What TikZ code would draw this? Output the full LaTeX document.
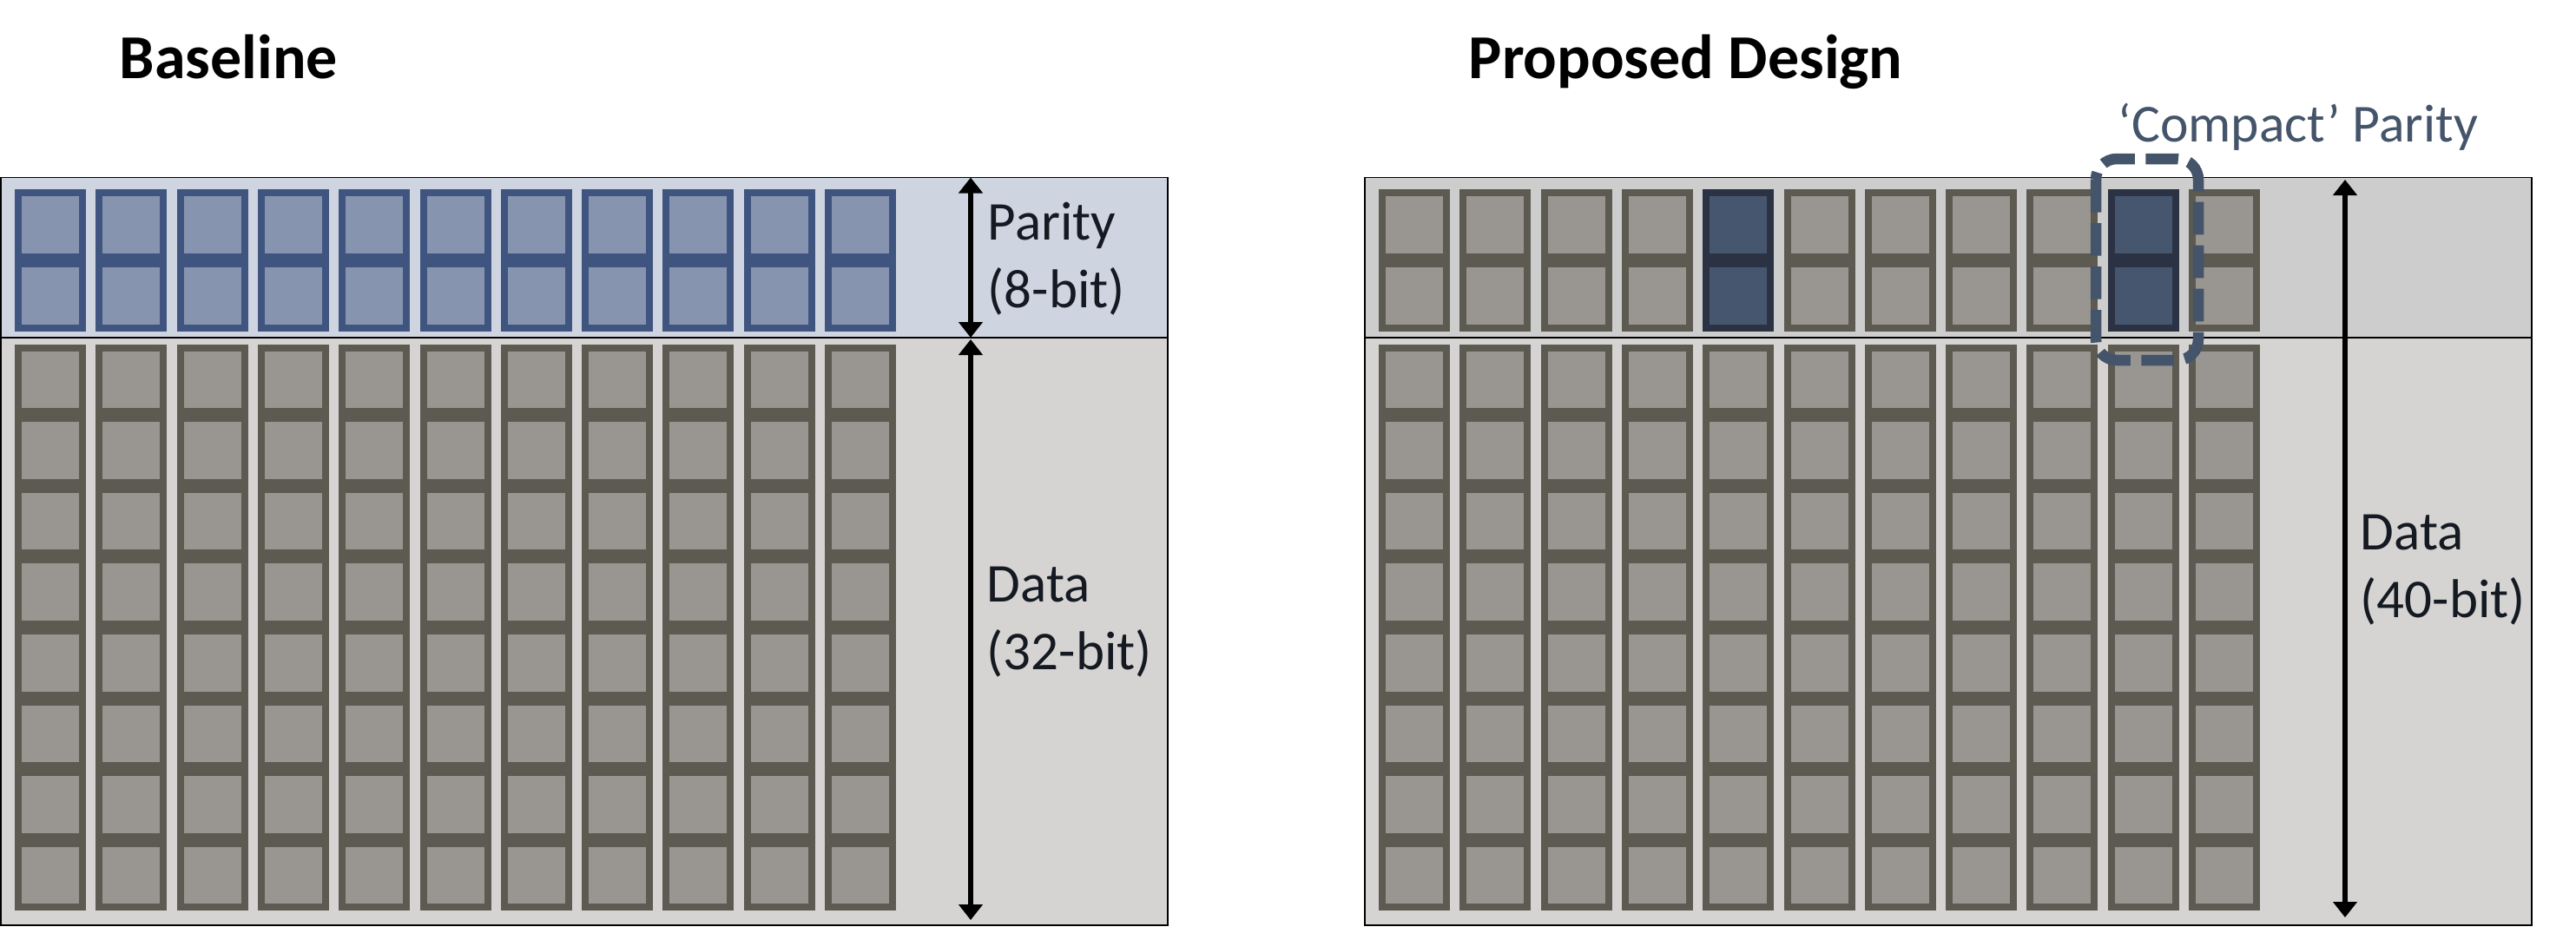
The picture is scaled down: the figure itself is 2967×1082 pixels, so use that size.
\documentclass[tikz,border=0pt]{standalone}
\usepackage{fontspec}
\setmainfont{Carlito}
\usetikzlibrary{arrows.meta}

\definecolor{parbg}{HTML}{CED5E1}
\definecolor{parline}{HTML}{3F557F}
\definecolor{parfill}{HTML}{8794AF}
\definecolor{databg}{HTML}{D5D4D2}
\definecolor{graybg}{HTML}{CDCDCD}
\definecolor{cellline}{HTML}{5C5A51}
\definecolor{cellfill}{HTML}{999691}
\definecolor{darkline}{HTML}{2B3243}
\definecolor{darkfill}{HTML}{47566F}
\definecolor{slate}{HTML}{44546A}
\definecolor{ink}{HTML}{151A22}

% one bit cell: x, y, line colour, fill colour
\newcommand{\bitcell}[4]{%
  \fill[#3] (#1,#2) rectangle ++(82,81.6);
  \fill[#4] (#1+8,#2+8) rectangle ++(66,65.6);
}

\tikzset{
  title/.style={anchor=base west,inner sep=0pt,font=\fontsize{18pt}{21.6pt}\selectfont\bfseries},
  sidelabel/.style={anchor=base west,inner sep=0pt,align=left,text=ink,
    font=\fontsize{15.75pt}{19.5pt}\selectfont},
  dim/.style={line width=1.5pt,
    {Triangle[width=6.75pt,length=4.5pt]}-{Triangle[width=6.75pt,length=4.5pt]}},
  band/.style={draw=black,line width=0.35pt}
}

\begin{document}
\begin{tikzpicture}[x=0.25pt,y=-0.25pt]

\useasboundingbox[fill=white] (0,0) rectangle (2967,1082);

% Baseline
\node[title] (base) at (137,90.7) {Baseline};
\filldraw[band,fill=parbg] (1,204.5) rectangle (1345,389);
\filldraw[band,fill=databg] (1,389) rectangle (1345,1066);

\foreach \i in {0,...,10} {
  \foreach \j in {0,1} \bitcell{17+93.3*\i}{218+82*\j}{parline}{parfill};
  \foreach \j in {0,...,7} \bitcell{17+93.3*\i}{396.5+81.6*\j}{cellline}{cellfill};
}

\coordinate (ptop) at (1118,204.5);
\coordinate (pbot) at (1118,389);
\coordinate (dtop) at (1118,391);
\coordinate (dbot) at (1118,1060);
\draw[dim] (ptop) -- (pbot);
\draw[dim] (dtop) -- (dbot);

\node[sidelabel] (parlab) at (1137,354.7) {Parity\\(8-bit)};
\node[sidelabel] (datlab) at (1136,771.7) {Data\\(32-bit)};

% Proposed Design
\node[title] (prop) at (1691,90.7) {Proposed Design};
\filldraw[band,fill=graybg] (1572,204.5) rectangle (2916,389);
\filldraw[band,fill=databg] (1572,389) rectangle (2916,1066);

\foreach \i in {0,...,10} {
  \foreach \j in {0,1} \bitcell{1588+93.3*\i}{218+82*\j}{cellline}{cellfill};
  \foreach \j in {0,...,7} \bitcell{1588+93.3*\i}{396.5+81.6*\j}{cellline}{cellfill};
}
\foreach \i in {4,9}
  \foreach \j in {0,1} \bitcell{1588+93.3*\i}{218+82*\j}{darkline}{darkfill};

\coordinate (rtop) at (2701,207);
\coordinate (rbot) at (2701,1057);
\draw[dim] (rtop) -- (rbot);

\node[sidelabel] (datlab2) at (2718,711.7) {Data\\(40-bit)};

% compact parity
\draw[slate,line width=3.125pt,dash pattern=on 9.4pt off 3.1pt,rounded corners=6pt]
  (2414,183) rectangle (2532,415);
\node[anchor=base west,inner sep=0pt,text=slate,font=\fontsize{15.4pt}{18pt}\selectfont]
  (cplab) at (2439,163) {‘Compact’ Parity};

\end{tikzpicture}
\end{document}
